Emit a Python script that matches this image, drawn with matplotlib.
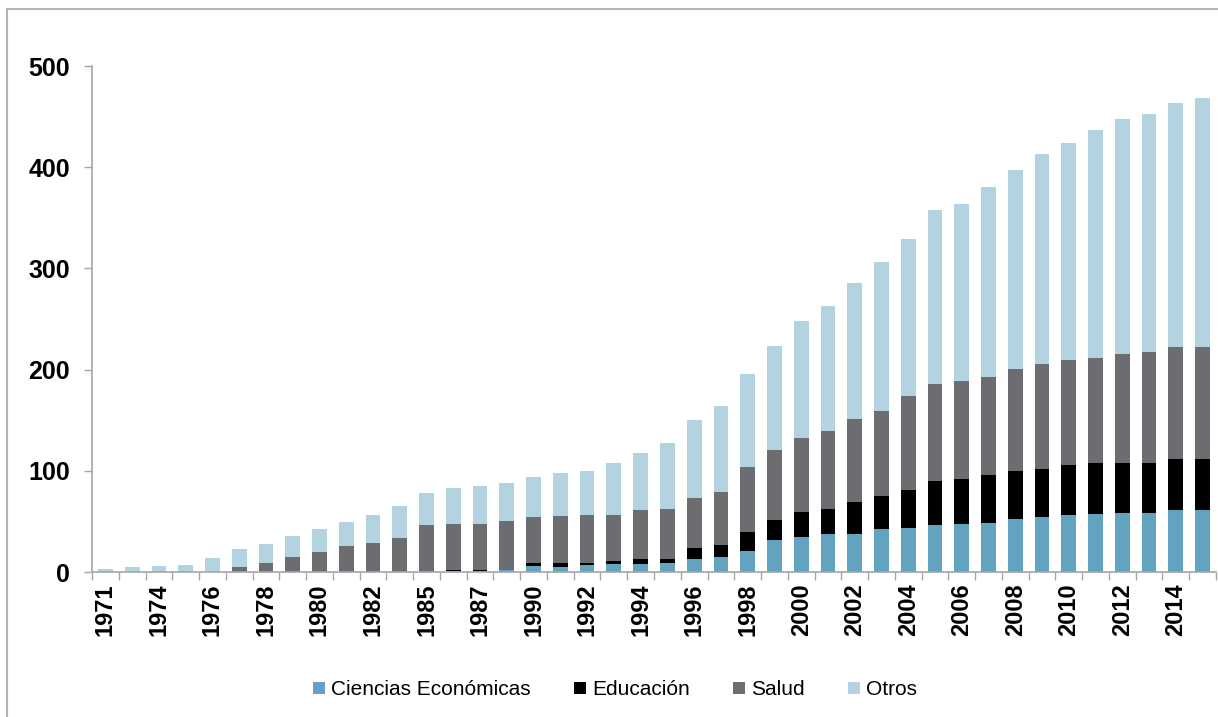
import matplotlib.pyplot as plt
import numpy as np
from matplotlib.patches import Rectangle, Patch

# === Data ===

years = [1971, 1972, 1974, 1975, 1976, 1977, 1978, 1979, 1980, 1981,
         1982, 1983, 1985, 1986, 1987, 1988, 1990, 1991, 1992, 1993,
         1994, 1995, 1996, 1997, 1998, 1999, 2000, 2001, 2002, 2003,
         2004, 2005, 2006, 2007, 2008, 2009, 2010, 2011, 2012, 2013,
         2014, 2015]

ciencias = [0, 0, 0, 0, 0, 0, 0, 0, 0, 0,
            0, 0, 0, 0.5, 0.5, 1.5, 5.5, 5, 6.5, 8.3,
            8.3, 9, 13.2, 14.8, 21, 31.3, 34.6, 37.3, 38, 42.2,
            43.9, 46.1, 47.1, 48.6, 52.1, 54.4, 56, 57.7, 58.3, 58.3,
            61, 61]

educacion = [0, 0, 0, 0, 0, 0, 0, 0, 0, 0,
             0, 0, 0, 1, 1.5, 0.5, 3, 4, 2.5, 2.3,
             5, 4.2, 10.2, 11.6, 18.8, 20.5, 24.7, 25.3, 31.2, 32.9,
             37.5, 43.5, 44.5, 47, 47.7, 47.8, 50.1, 50.4, 49.8, 49.7,
             51, 51]

salud = [0, 0, 0, 0, 0, 5.3, 8.6, 15, 19.5, 25.4,
         28.8, 34, 46, 46.3, 45.8, 48.4, 46, 46, 47, 46,
         47.5, 49.4, 50.1, 52.6, 63.6, 68.8, 73.5, 76.4, 82.4, 84.4,
         92.6, 96.4, 97.1, 97.1, 100.9, 103.4, 103.5, 103.8, 107.4, 109.8,
         110, 110]

otros = [3, 5, 5.5, 6.5, 13.5, 17, 18.7, 20.3, 22.7, 23.6,
         27.2, 31, 32.3, 35.5, 37.2, 37.1, 39, 42.5, 43.5, 51.4,
         57.2, 64.4, 76.5, 85, 92.6, 102.7, 115.2, 123.8, 134.4, 147,
         155.5, 171.5, 175.3, 187.7, 196.3, 207.9, 214.4, 224.7, 232, 235.2,
         241, 246]

series = ["Ciencias Económicas", "Educación", "Salud", "Otros"]
colors = ["#63a3c0", "#000000", "#6c6d71", "#b3d3e0"]

plt.rcParams["font.family"] = ["Liberation Sans", "DejaVu Sans"]

# === Plot ===

fig = plt.figure(figsize=(12.18, 7.17), dpi=100)
ax = fig.add_axes([92 / 1218, 1 - 572 / 717, 1124 / 1218, (572 - 66) / 717])

x = np.arange(len(years))
bottom = np.zeros(len(years))
for vals, col in zip([ciencias, educacion, salud, otros], colors):
    vals = np.array(vals, dtype=float)
    ax.bar(x, vals, width=0.55, bottom=bottom, color=col, linewidth=0)
    bottom += vals

ax.set_xlim(-0.5, len(years) - 0.5)
ax.set_ylim(0, 500)

for s in ["top", "right"]:
    ax.spines[s].set_visible(False)
for s in ["left", "bottom"]:
    ax.spines[s].set_color("#a6a6a6")
    ax.spines[s].set_linewidth(1.2)

ax.set_yticks([0, 100, 200, 300, 400, 500])
ax.tick_params(axis="y", length=6, width=1, color="#a6a6a6", pad=10,
               labelsize=18)
for t in ax.get_yticklabels():
    t.set_fontweight("bold")

# labels on every other bar, small ticks between bars
ax.set_xticks(x[::2])
ax.set_xticklabels([str(y) for y in years[::2]], rotation=90, fontsize=17,
                   fontweight="bold")
ax.set_xticks(np.arange(-0.5, len(years), 1), minor=True)
ax.tick_params(axis="x", which="major", length=0, pad=8)
ax.tick_params(axis="x", which="minor", length=6, width=1, color="#a6a6a6")

# light frame around the figure
fig.patches.append(Rectangle((7 / 1218, -0.1), 1.2, 1.1 - 10 / 717 + 0.001,
                             transform=fig.transFigure, fill=False,
                             edgecolor="#b4b4b4", linewidth=1.5))

handles = [Patch(facecolor=c, edgecolor="none") for c in colors]
fig.legend(handles, series, loc="center", bbox_to_anchor=(0.505, 0.038),
           ncol=4, frameon=False, handlelength=0.55, handleheight=0.55,
           handletextpad=0.3, columnspacing=2.1, fontsize=15)

fig.savefig("out.png", dpi=100)
